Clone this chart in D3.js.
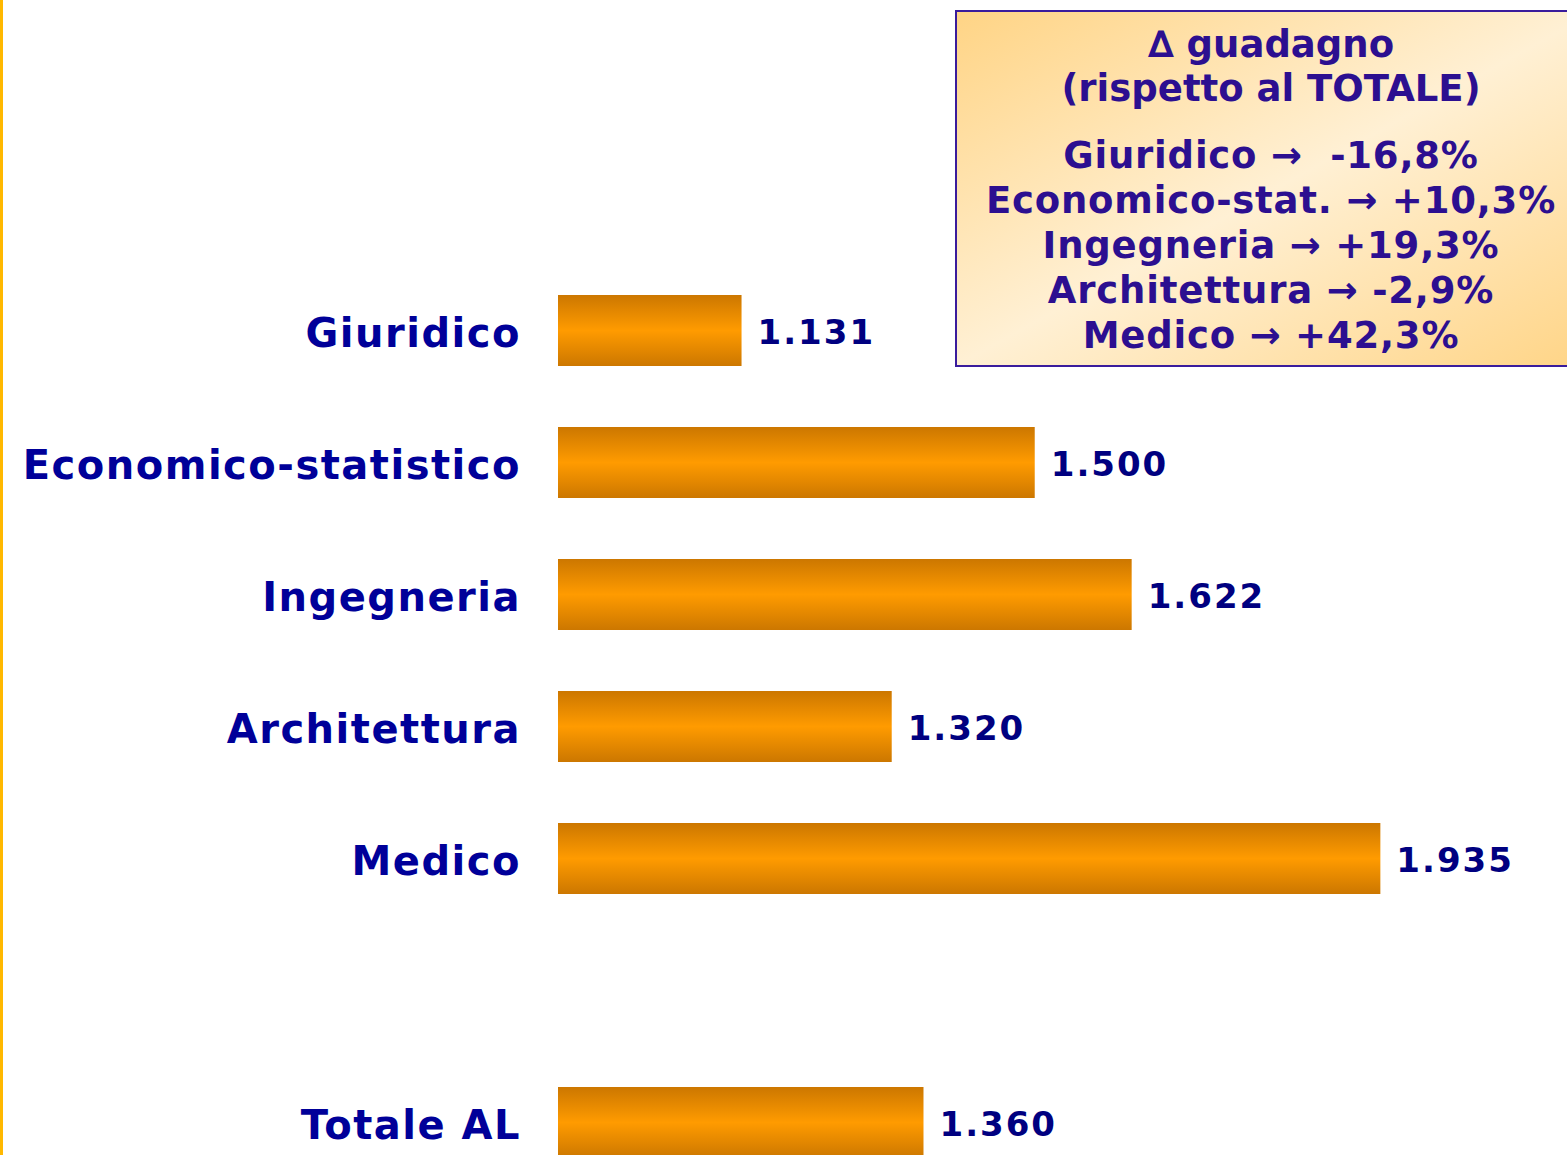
<!DOCTYPE html>
<html>
<head>
<meta charset="utf-8">
<script src="https://cdn.jsdelivr.net/npm/d3@7"></script>
<style>
  html, body { margin: 0; padding: 0; background: #fff; overflow: hidden; }
  svg { display: block; font-family: "DejaVu Sans", Verdana, sans-serif; font-weight: bold; }
</style>
</head>
<body>
<svg id="chart" width="1567" height="1155"></svg>
<script>
const categories = ["Giuridico", "Economico-statistico", "Ingegneria", "Architettura", "Medico", "Totale AL"];
const values = [1131, 1500, 1622, 1320, 1935, 1360];
const valueLabels = ["1.131", "1.500", "1.622", "1.320", "1.935", "1.360"];

const boxTitle = ["\u2206 guadagno", "(rispetto al TOTALE)"];
const deltaNames = ["Giuridico", "Economico-stat.", "Ingegneria", "Architettura", "Medico"];
const deltaValues = ["\u00a0-16,8%", "+10,3%", "+19,3%", "-2,9%", "+42,3%"];

const LABEL_COLOR = "#000099";
const BOX_TEXT = "#2c0f90";

const svg = d3.select("#chart");
const W = 1567, H = 1155;

// slots: an empty one between Medico and the total
const slots = [...categories.slice(0, 5), "_gap", categories[5]];
const yscale = d3.scaleBand().domain(slots).range([295, 1158])
    .paddingInner(61 / 132).paddingOuter(0).align(0);
const xscale = d3.scaleLinear().domain([900, 2000]).range([558, 1432]);

const defs = svg.append("defs");
const barGrad = defs.append("linearGradient").attr("id", "barGrad")
    .attr("x1", 0).attr("y1", 0).attr("x2", 0).attr("y2", 1);
barGrad.append("stop").attr("offset", "0%").attr("stop-color", "#cc7700");
barGrad.append("stop").attr("offset", "50%").attr("stop-color", "#ff9b00");
barGrad.append("stop").attr("offset", "100%").attr("stop-color", "#cc7700");

const boxGrad = defs.append("linearGradient").attr("id", "boxGrad")
    .attr("x1", 0).attr("y1", 0).attr("x2", 1).attr("y2", 1);
boxGrad.append("stop").attr("offset", "0%").attr("stop-color", "#ffd485");
boxGrad.append("stop").attr("offset", "50%").attr("stop-color", "#fff0d4");
boxGrad.append("stop").attr("offset", "100%").attr("stop-color", "#ffd485");

// left accent line
svg.append("rect").attr("x", 0).attr("y", 0).attr("width", 3).attr("height", H).attr("fill", "#ffb800");

const data = categories.map((c, i) => ({ cat: c, value: values[i], label: valueLabels[i] }));

svg.selectAll(".bar").data(data).join("rect")
    .attr("class", "bar")
    .attr("x", xscale(900))
    .attr("y", d => yscale(d.cat))
    .attr("width", d => xscale(d.value) - xscale(900))
    .attr("height", yscale.bandwidth())
    .attr("fill", "url(#barGrad)");

svg.selectAll(".cat").data(data).join("text")
    .attr("class", "cat")
    .attr("x", 521)
    .attr("y", d => yscale(d.cat) + yscale.bandwidth() / 2 + 16)
    .attr("text-anchor", "end")
    .attr("fill", LABEL_COLOR)
    .style("font-size", "40px")
    .style("letter-spacing", "1.5px")
    .text(d => d.cat);

svg.selectAll(".val").data(data).join("text")
    .attr("class", "val")
    .attr("x", d => xscale(d.value) + 16)
    .attr("y", d => yscale(d.cat) + yscale.bandwidth() / 2 + 13)
    .attr("fill", "#000080")
    .style("font-size", "34px")
    .style("letter-spacing", "2px")
    .text(d => d.label);

// delta box
const box = svg.append("g");
box.append("rect")
    .attr("x", 956).attr("y", 11).attr("width", 640).attr("height", 355)
    .attr("fill", "url(#boxGrad)")
    .attr("stroke", "#3a1c9c").attr("stroke-width", 2);

const CX = 1271;
box.selectAll(".title").data(boxTitle).join("text")
    .attr("class", "title")
    .attr("x", CX)
    .attr("y", (d, i) => 57 + i * 44)
    .attr("text-anchor", "middle")
    .attr("fill", BOX_TEXT)
    .style("font-size", "37px")
    .text(d => d);

box.selectAll(".delta").data(deltaNames).join("text")
    .attr("class", "delta")
    .attr("x", CX)
    .attr("y", (d, i) => 168 + i * 45)
    .attr("text-anchor", "middle")
    .attr("fill", BOX_TEXT)
    .style("font-size", "37px")
    .style("letter-spacing", "0.8px")
    .text((d, i) => `${d} \u2192 ${deltaValues[i]}`);
</script>
</body>
</html>
